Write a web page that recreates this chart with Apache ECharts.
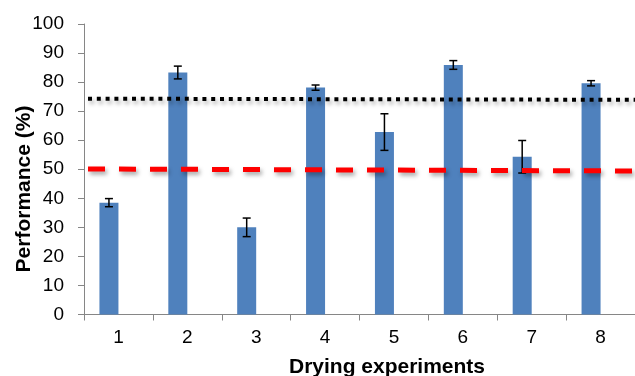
<!DOCTYPE html>
<html>
<head>
<meta charset="utf-8">
<script src="https://cdn.jsdelivr.net/npm/echarts@6/dist/echarts.min.js"></script>
<style>
  html, body { margin: 0; padding: 0; background: #fff; }
  #chart { width: 635px; height: 376px; }
</style>
</head>
<body>
<div id="chart"></div>
<script>
// 数据
var categories = ['1', '2', '3', '4', '5', '6', '7', '8'];
var performance = [38.5, 83.3, 30.0, 78.1, 62.8, 85.9, 54.3, 79.6];
var errors = [1.4, 2.2, 3.2, 0.9, 6.3, 1.5, 5.6, 0.9];
// 参考线, 左端和右端的值
var refHigh = [74.3, 73.9];
var refLow = [50.1, 49.4];

var FONT = '"Liberation Sans", Arial, sans-serif';
var BAR_W = 19;

var errorData = (function () {
    var list = [];
    for (var i = 0; i < performance.length; i++) {
        list.push([i, performance[i], errors[i]]);
    }
    return list;
})();

function renderError(params, api) {
    var i = api.value(0), v = api.value(1), e = api.value(2);
    var top = api.coord([i, v + e]);
    var bot = api.coord([i, v - e]);
    var x = top[0] - BAR_W / 2;
    var style = {stroke: '#000', lineWidth: 1.5};
    return {
        type: 'group',
        children: [
            {type: 'line', shape: {x1: x, y1: top[1], x2: x, y2: bot[1]}, style: style},
            {type: 'line', shape: {x1: x - 4, y1: top[1], x2: x + 4, y2: top[1]}, style: style},
            {type: 'line', shape: {x1: x - 4, y1: bot[1], x2: x + 4, y2: bot[1]}, style: style}
        ]
    };
}

var lineShadow = {
    shadowColor: 'rgba(0,0,0,0.35)',
    shadowBlur: 4,
    shadowOffsetX: 2,
    shadowOffsetY: 3
};

var option = {
    animation: false,
    backgroundColor: '#fff',
    grid: [
        {left: 84, right: -8, top: 24, bottom: 61.5},
        {left: 88, right: 0, top: 24, bottom: 61.5}
    ],
    xAxis: [
        {
            type: 'category',
            gridIndex: 0,
            data: categories,
            axisLine: {lineStyle: {color: '#868686', width: 1}},
            axisTick: {show: true, length: 6, lineStyle: {color: '#868686'}},
            axisLabel: {margin: 14, fontSize: 19, color: '#000', fontFamily: FONT}
        },
        {type: 'value', gridIndex: 1, min: 0, max: 1, show: false}
    ],
    yAxis: [
        {
            type: 'value',
            gridIndex: 0,
            min: 0,
            max: 100,
            interval: 10,
            axisLine: {show: true, lineStyle: {color: '#868686', width: 1}},
            axisTick: {show: true, length: 6, lineStyle: {color: '#868686'}},
            splitLine: {show: false},
            axisLabel: {margin: 20, fontSize: 19, color: '#000', fontFamily: FONT}
        },
        {type: 'value', gridIndex: 1, min: 0, max: 100, show: false}
    ],
    graphic: [
        {
            type: 'text',
            x: 24,
            y: 189,
            rotation: Math.PI / 2,
            style: {
                text: 'Performance (%)',
                font: 'bold 21px ' + FONT,
                fill: '#000',
                align: 'center',
                verticalAlign: 'middle'
            }
        },
        {
            type: 'text',
            x: 387,
            y: 367,
            style: {
                text: 'Drying experiments',
                font: 'bold 21px ' + FONT,
                fill: '#000',
                align: 'center',
                verticalAlign: 'middle'
            }
        }
    ],
    series: [
        {
            type: 'bar',
            xAxisIndex: 0,
            yAxisIndex: 0,
            data: performance,
            barWidth: BAR_W,
            barGap: '0%',
            itemStyle: {color: '#4f81bd'},
            z: 2
        },
        {
            type: 'bar',
            xAxisIndex: 0,
            yAxisIndex: 0,
            data: categories.map(function () { return '-'; }),
            barWidth: BAR_W,
            barGap: '0%',
            z: 2
        },
        {
            type: 'custom',
            xAxisIndex: 0,
            yAxisIndex: 0,
            data: errorData,
            renderItem: renderError,
            z: 3
        },
        {
            type: 'line',
            xAxisIndex: 1,
            yAxisIndex: 1,
            data: [[0, refHigh[0]], [1, refHigh[1]]],
            symbol: 'none',
            lineStyle: Object.assign({color: '#000', width: 4, type: [4, 4.8], cap: 'butt'}, lineShadow),
            z: 4
        },
        {
            type: 'line',
            xAxisIndex: 1,
            yAxisIndex: 1,
            data: [[0, refLow[0]], [1, refLow[1]]],
            symbol: 'none',
            lineStyle: Object.assign({color: '#ff0000', width: 5, type: [17, 14], cap: 'butt'}, lineShadow),
            z: 4
        }
    ]
};

var chart = echarts.init(document.getElementById('chart'));
chart.setOption(option);
</script>
</body>
</html>
